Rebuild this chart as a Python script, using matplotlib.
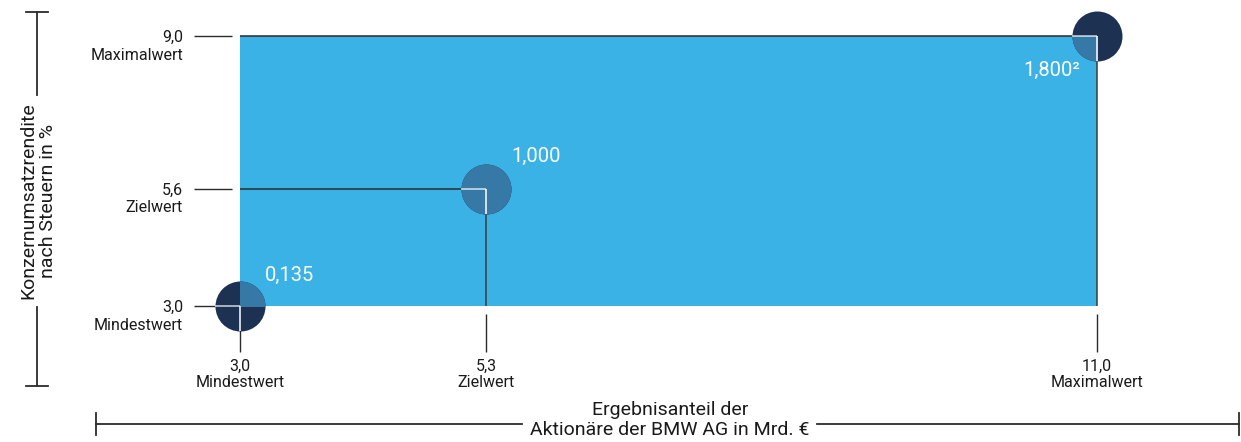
import matplotlib
matplotlib.use("Agg")
import matplotlib.pyplot as plt
from matplotlib.patches import Rectangle
from matplotlib.lines import Line2D

plt.rcParams['font.family'] = ['Roboto', 'DejaVu Sans']

# Werte aus der Grafik
stufen = ["Mindestwert", "Zielwert", "Maximalwert"]
x_werte = [3.0, 5.3, 11.0]      # Ergebnisanteil in Mrd. €
y_werte = [3.0, 5.6, 9.0]       # Konzernumsatzrendite in %
x_labels = ["3,0", "5,3", "11,0"]
y_labels = ["3,0", "5,6", "9,0"]
faktoren = ["0,135", "1,000", "1,800²"]

BLAU = "#3bb2e6"
NAVY = "#1d3153"
STAHL = "#3679a6"
LINIE = "#2b2b2b"

W, H = 1241, 442
fig = plt.figure(figsize=(W / 100, H / 100), dpi=100)
# Achse genau über dem blauen Feld
ax = fig.add_axes([240 / W, 1 - 306 / H, 857 / W, 270 / H])
ax.set_xlim(min(x_werte), max(x_werte))
ax.set_ylim(min(y_werte), max(y_werte))
ax.patch.set_alpha(0)

for s in ax.spines.values():
    s.set_visible(False)
ax.spines['bottom'].set_position(('outward', 8 * 0.72))
ax.spines['left'].set_position(('outward', 8 * 0.72))

ax.set_xticks(x_werte)
ax.set_xticklabels([f"{a}\n{b}" for a, b in zip(x_labels, stufen)],
                   fontsize=11.5, color="#1a1a1a", linespacing=1.1)
ax.set_yticks(y_werte)
ax.set_yticklabels(y_labels, fontsize=11.5, color="#1a1a1a")
ax.tick_params(axis='x', direction='out', length=38 * 0.72, width=1,
               color=LINIE, pad=5)
ax.tick_params(axis='y', direction='out', length=38 * 0.72, width=1,
               color=LINIE, pad=8)

# Unterbeschriftungen der y-Ticks
for y, stufe in zip(y_werte, stufen):
    ax.annotate(stufe, xy=(0, y), xycoords=('axes fraction', 'data'),
                xytext=(-57, -19), textcoords='offset pixels',
                ha='right', va='center', fontsize=11.5, color="#1a1a1a")

# blaues Feld zwischen Mindest- und Maximalwert
feld = Rectangle((min(x_werte), min(y_werte)), max(x_werte) - min(x_werte),
                 max(y_werte) - min(y_werte), facecolor=BLAU, edgecolor='none',
                 zorder=1)
ax.add_patch(feld)

# Hilfslinien zu Ziel- und Maximalwert
for x, y in zip(x_werte[1:], y_werte[1:]):
    ax.plot([min(x_werte), x], [y, y], color=LINIE, lw=1.1, zorder=2,
            clip_on=False, solid_capstyle='butt')
    ax.plot([x, x], [min(y_werte), y], color="#3a3a3a", lw=1.1, zorder=2,
            clip_on=False, solid_capstyle='butt')

# Kreise
groesse = 36 ** 2
ax.scatter(x_werte, y_werte, s=groesse, color=NAVY, linewidths=0,
           zorder=3, clip_on=False)
innen = ax.scatter(x_werte, y_werte, s=groesse, color=STAHL, linewidths=0,
                   zorder=4)
innen.set_clip_path(feld)

# weiße Linien im Kreis
p0 = ax.transData.transform((0, 0))
p1 = ax.transData.transform((1, 1))
rx = 25 / (p1[0] - p0[0])
ry = 25 / (p1[1] - p0[1])
for x, y in zip(x_werte, y_werte):
    ax.plot([x - rx, x], [y, y], color="white", lw=1.1, alpha=0.8,
            zorder=5, clip_on=False, solid_capstyle='butt')
    ax.plot([x, x], [y - ry, y], color="white", lw=1.1, zorder=5,
            clip_on=False, solid_capstyle='butt')

# Faktoren
versatz = [(25, 31, 'left'), (25, 33, 'left'), (-17, -34, 'right')]
for x, y, text, (dx, dy, ha) in zip(x_werte, y_werte, faktoren, versatz):
    ax.annotate(text, xy=(x, y), xytext=(dx, dy), textcoords='offset pixels',
                ha=ha, va='center', fontsize=14.5, color="white", zorder=6)

# Klammer links mit Titel
def fx(px):
    return px / W

def fy(py):
    return 1 - py / H

lw_k = 1.3
fig.add_artist(Line2D([fx(37), fx(37)], [fy(12), fy(95)], color=LINIE, lw=lw_k))
fig.add_artist(Line2D([fx(37), fx(37)], [fy(307), fy(386)], color=LINIE, lw=lw_k))
fig.add_artist(Line2D([fx(26), fx(48)], [fy(12), fy(12)], color=LINIE, lw=lw_k))
fig.add_artist(Line2D([fx(26), fx(48)], [fy(386), fy(386)], color=LINIE, lw=lw_k))
fig.text(fx(38), fy(201), "Konzernumsatzrendite\nnach Steuern in %",
         rotation=90, ha='center', va='center', multialignment='center',
         fontsize=14, color="#1a1a1a", linespacing=1.15)

# Klammer unten mit Titel
fig.add_artist(Line2D([fx(96), fx(522)], [fy(424), fy(424)], color=LINIE, lw=lw_k))
fig.add_artist(Line2D([fx(817), fx(1239)], [fy(424), fy(424)], color=LINIE, lw=lw_k))
fig.add_artist(Line2D([fx(96), fx(96)], [fy(413), fy(435)], color=LINIE, lw=lw_k))
fig.add_artist(Line2D([fx(1239), fx(1239)], [fy(413), fy(435)], color=LINIE, lw=lw_k))
fig.text(fx(670), fy(420), "Ergebnisanteil der\nAktionäre der BMW AG in Mrd. €",
         ha='center', va='center', multialignment='center',
         fontsize=14, color="#1a1a1a", linespacing=1.2)

fig.savefig("out.png", dpi=100)
